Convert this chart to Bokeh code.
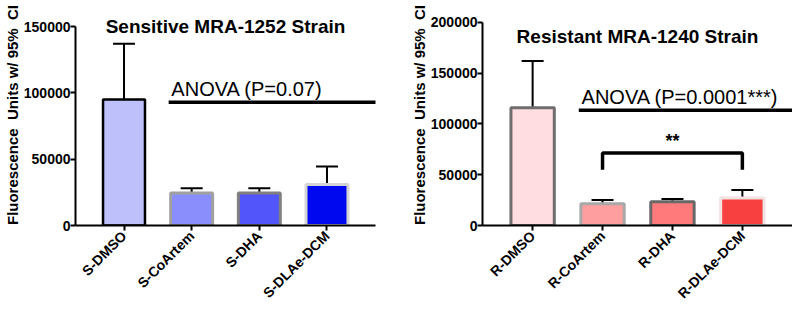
from bokeh.plotting import figure
from bokeh.models import (FactorRange, Range1d, ColumnDataSource, Whisker, TeeHead,
                          Label, FixedTicker)
from bokeh.layouts import row
from bokeh.embed import file_html
from bokeh.resources import INLINE

# ---------------- data ----------------
s_groups = ["S-DMSO", "S-CoArtem", "S-DHA", "S-DLAe-DCM"]
s_means = [95000, 24500, 24500, 31000]
s_upper = [137000, 28000, 28000, 44500]
s_fill = ["#BDC0FB", "#8A8EFD", "#5255FA", "#0008F0"]
s_line = ["#000000", "#A0A0A0", "#808080", "#D4D4D4"]
s_title = "Sensitive MRA-1252 Strain"
s_anova_text = "ANOVA (P=0.07)"
s_anova_y = 93000
s_ticks = [0, 50000, 100000, 150000]

r_groups = ["R-DMSO", "R-CoArtem", "R-DHA", "R-DLAe-DCM"]
r_means = [116000, 21500, 23500, 27000]
r_upper = [162000, 25000, 26000, 35000]
r_fill = ["#FFDDE0", "#FF9E9E", "#FF7B7B", "#F84040"]
r_line = ["#6E6E6E", "#A8A8A8", "#686868", "#F2E2E2"]
r_title = "Resistant MRA-1240 Strain"
r_anova_text = "ANOVA (P=0.0001***)"
r_anova_y = 113500
r_ticks = [0, 50000, 100000, 150000, 200000]
r_bracket_x = ["R-CoArtem", "R-CoArtem", "R-DLAe-DCM", "R-DLAe-DCM"]
r_bracket_y = [55000, 71500, 71500, 55000]
r_bracket_text = "**"

y_label = "Fluorescence\u00a0\u00a0Units w/ 95%\u00a0\u00a0CI"
FONT = "Liberation Sans"


def make_panel(groups, means, upper, fills, lines, title, anova_text, anova_y,
               ticks, yend, width, height, bl, bt, bb, br, title_y, anova_text_y):
    p = figure(x_range=FactorRange(factors=groups, range_padding=0.1085,
                                   range_padding_units="percent"),
               y_range=Range1d(0, yend), width=width, height=height,
               output_backend="svg", toolbar_location=None,
               min_border_left=bl, min_border_top=bt, min_border_bottom=bb,
               min_border_right=br)
    p.outline_line_color = None
    p.xgrid.visible = False
    p.ygrid.visible = False
    p.background_fill_color = "white"
    p.border_fill_color = "white"

    src = ColumnDataSource(dict(x=groups, top=means, upper=upper, fill=fills,
                                line=lines, lw=[3 if c != "#000000" else 2.5 for c in lines]))
    p.vbar(x="x", top="top", bottom=0, width=0.62, fill_color="fill",
           line_color="line", line_width="lw", source=src)
    w = Whisker(base="x", lower="top", upper="upper", source=src, dimension="height",
                upper_head=TeeHead(size=22, line_width=2, line_color="black"),
                lower_head=None, line_width=2, line_color="black")
    p.add_layout(w)

    # ANOVA line + text
    p.segment(x0=[1.16], x1=[4.6], y0=[anova_y], y1=[anova_y],
              line_width=3.5, line_color="black")
    p.add_layout(Label(x=1.2, y=anova_text_y, text=anova_text, text_font=FONT,
                       text_font_size="20px", text_color="black",
                       text_baseline="middle", text_align="left"))
    p.add_layout(Label(x=2.0, y=title_y, text=title, text_font=FONT,
                       text_font_size="19px", text_font_style="bold",
                       text_color="black", text_baseline="middle",
                       text_align="center"))

    for ax in (p.xaxis[0], p.yaxis[0]):
        ax.axis_line_width = 2
        ax.axis_line_color = "black"
        ax.major_tick_line_width = 2
        ax.major_tick_line_color = "black"
        ax.major_tick_out = 5
        ax.major_tick_in = 0
        ax.minor_tick_line_color = None
        ax.major_label_text_font = FONT
        ax.major_label_text_font_style = "bold"
        ax.major_label_text_font_size = "14px"
        ax.major_label_text_color = "black"
    p.yaxis[0].ticker = FixedTicker(ticks=ticks)
    p.yaxis[0].bounds = (ticks[0], ticks[-1])
    p.yaxis[0].formatter.use_scientific = False
    p.yaxis[0].major_label_standoff = 0
    p.yaxis[0].axis_label = y_label
    p.yaxis[0].axis_label_text_font = FONT
    p.yaxis[0].axis_label_text_font_style = "bold"
    p.yaxis[0].axis_label_text_font_size = "15px"
    p.yaxis[0].axis_label_text_color = "black"
    p.yaxis[0].axis_label_standoff = 0
    p.xaxis[0].major_label_orientation = 0.785398
    p.xaxis[0].major_label_standoff = 3
    return p


p1 = make_panel(s_groups, s_means, s_upper, s_fill, s_line, s_title, s_anova_text,
                s_anova_y, s_ticks, 166600, 396, 312, 73, 4, 87, 21,
                150000, 103200)

p2 = make_panel(r_groups, r_means, r_upper, r_fill, r_line, r_title, r_anova_text,
                r_anova_y, r_ticks, 217700, 396, 312, 86, 4, 87, 0,
                186000, 126600)
p2.line(x=r_bracket_x, y=r_bracket_y, line_width=3.5, line_color="black")
p2.add_layout(Label(x=2.5, y=83000, text=r_bracket_text, text_font=FONT,
                    text_font_size="18px", text_font_style="bold",
                    text_color="black", text_baseline="middle", text_align="center"))

layout = row(p1, p2)
open("out.html", "w").write(file_html(layout, INLINE))
